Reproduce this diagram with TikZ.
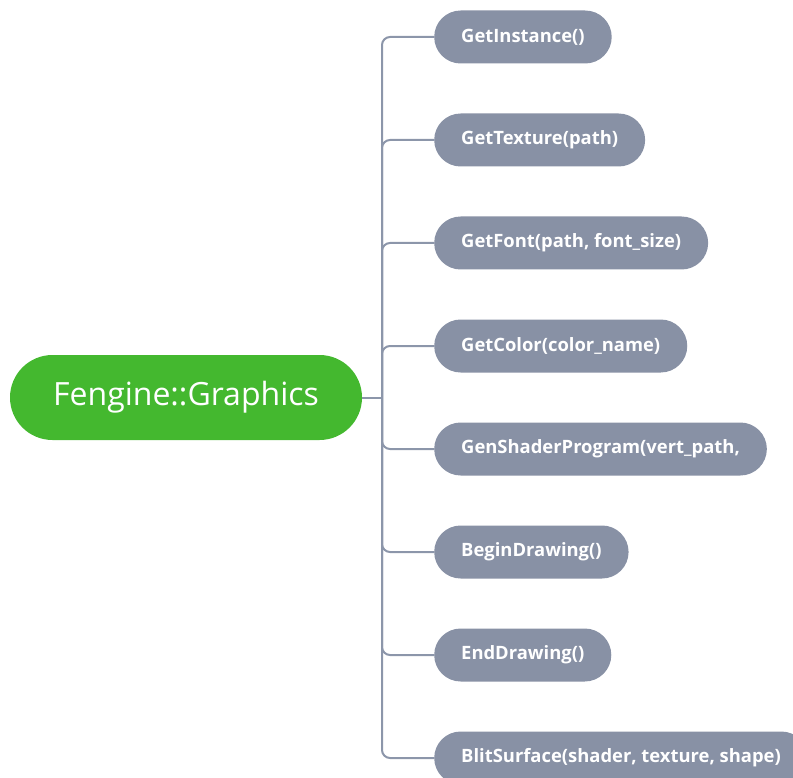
\documentclass[tikz,border=0pt]{standalone}
\usepackage{fontspec}
\setmainfont{Open Sans}
\definecolor{rootgreen}{RGB}{68,184,47}
\definecolor{childgray}{RGB}{136,145,165}
\definecolor{linegray}{RGB}{140,150,170}
\begin{document}
\begin{tikzpicture}[x=1pt,y=-1pt,
  rootbox/.style={fill=rootgreen, rounded corners=42.5pt, minimum width=352pt, minimum height=85pt, text=white, font=\fontsize{32}{38}\selectfont, inner sep=0pt},
  childbox/.style={fill=childgray, rounded corners=26.5pt, minimum height=53pt, text=white, font=\fontsize{18.4}{21}\selectfont\bfseries, inner xsep=27pt, inner ysep=0pt, anchor=west},
  branch/.style={draw=linegray, line width=2pt, rounded corners=8pt}]
\useasboundingbox (0,0) rectangle (793,778);
\node[rootbox] (root) at (186,397.5) {Fengine::Graphics};
\node[childbox] (c1) at (434,37) {GetInstance()};
\node[childbox] (c2) at (434,140) {GetTexture(path)};
\node[childbox] (c3) at (434,243) {GetFont(path, font\_size)};
\node[childbox] (c4) at (434,346) {GetColor(color\_name)};
\node[childbox] (c5) at (434,449) {GenShaderProgram(vert\_path,};
\node[childbox] (c6) at (434,552) {BeginDrawing()};
\node[childbox] (c7) at (434,655) {EndDrawing()};
\node[childbox] (c8) at (434,758) {BlitSurface(shader, texture, shape)};
\coordinate (trunk) at (382,397.5);
\draw[branch] (root.east) -- (trunk);
\foreach \c in {c1,c2,c3,c4,c5,c6,c7,c8}{
  \draw[branch] (trunk) |- (\c.west);
}
\end{tikzpicture}
\end{document}
